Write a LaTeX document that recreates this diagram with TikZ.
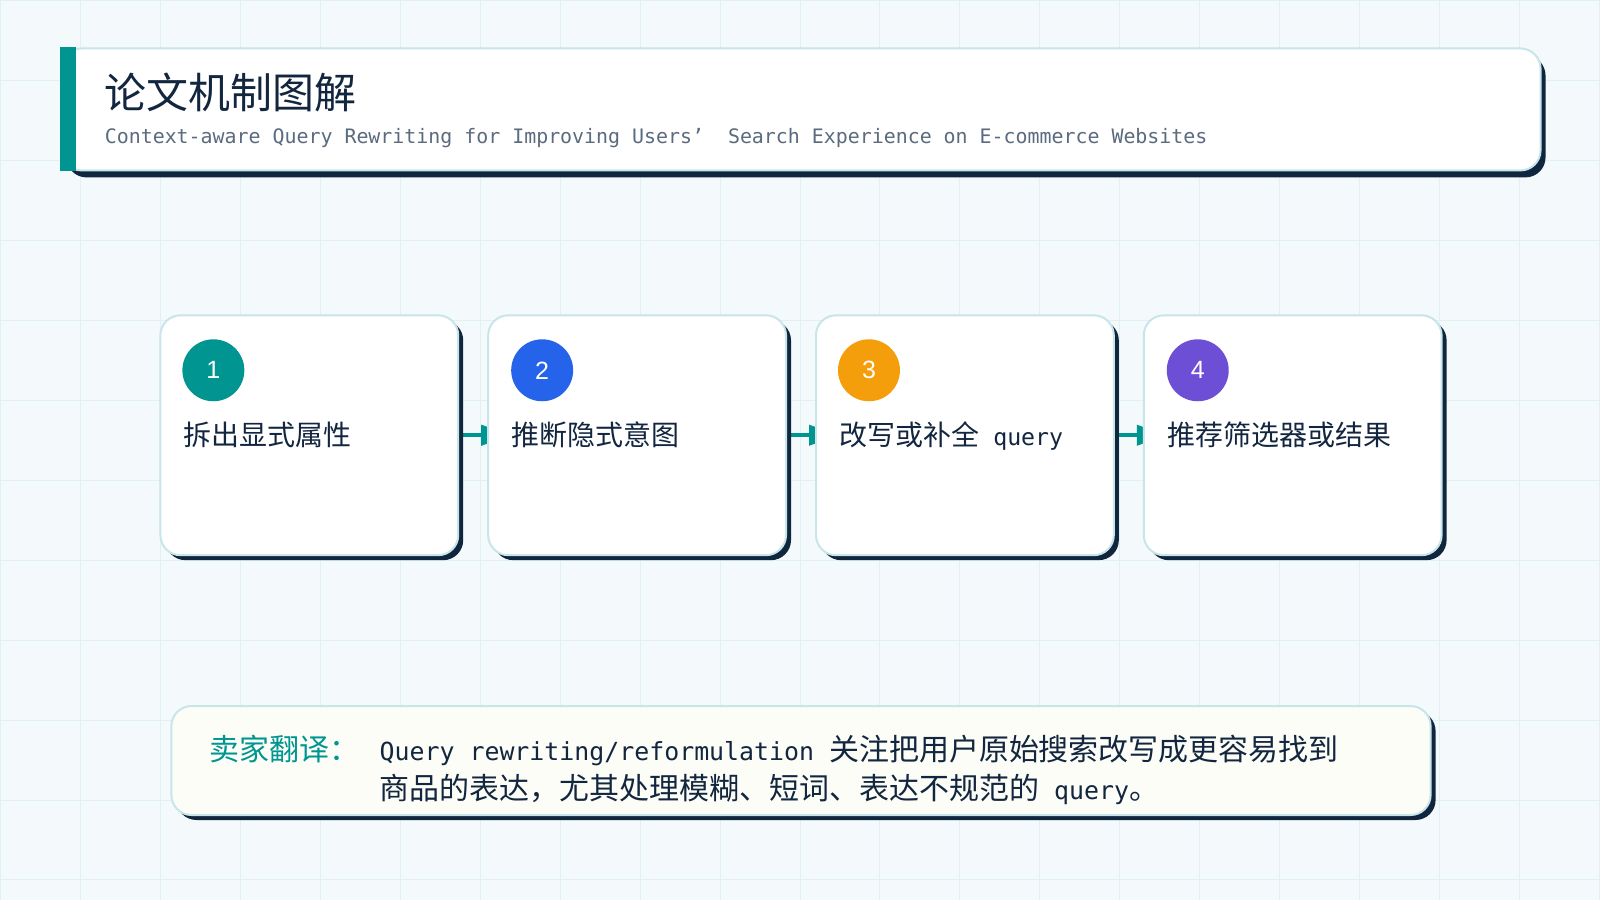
\documentclass[tikz,border=0pt]{standalone}
\usepackage{fontspec}
\setmainfont{Noto Sans CJK SC}
\newfontfamily\monof[Scale=0.83]{DejaVu Sans Mono}
\newfontfamily\numf{Liberation Sans}
\usetikzlibrary{arrows.meta,shadows}
\definecolor{bgc}{HTML}{F4F9FB}
\definecolor{gridc}{HTML}{E1F0F4}
\definecolor{ink}{HTML}{13263F}
\definecolor{subc}{HTML}{5B6B7F}
\definecolor{edgec}{HTML}{C8E5EA}
\definecolor{shadc}{HTML}{10263F}
\definecolor{tealc}{HTML}{009590}
\definecolor{bluec}{HTML}{2563EB}
\definecolor{orangec}{HTML}{F59E0B}
\definecolor{purplec}{HTML}{6D4FD5}
\definecolor{notec}{HTML}{FBFDF6}
\pgfdeclarelayer{background}
\pgfsetlayers{background,main}

\begin{document}
\begin{tikzpicture}[x=0.5pt, y=-0.5pt,
  card/.style={draw=edgec, line width=1pt, fill=white, rounded corners=10pt, inner sep=0pt,
    drop shadow={shadow xshift=2.5pt, shadow yshift=#1, fill=shadc, opacity=1}},
  card/.default=-2.5pt,
  stepcard/.style={card, minimum width=149pt, minimum height=120pt},
  badge/.style={circle, fill=#1, minimum size=31pt, inner sep=0pt, text=white,
    font=\numf\fontsize{12.5pt}{15pt}\selectfont},
  steptext/.style={anchor=base west, inner sep=0pt, text=ink,
    font=\fontsize{14pt}{17pt}\selectfont},
  link/.style={tealc, line width=2pt, -{Triangle[length=15pt,width=10pt]}, shorten >=-12pt}]

  % page and grid
  \begin{pgfonlayer}{background}
    \fill[bgc] (0,0) rectangle (1600,900);
    \draw[gridc, line width=0.5pt] (0,0) grid[step=40pt] (1600,900);
  \end{pgfonlayer}
  \useasboundingbox (0,0) rectangle (1600,900);

  % heading
  \node[card=-3.5pt, minimum width=740pt, minimum height=61pt] (head) at (801,109) {};
  \fill[tealc] (head.north west) rectangle ([xshift=8pt]head.south west);
  \node[anchor=base west, inner sep=0pt, text=ink, font=\fontsize{21pt}{25pt}\selectfont]
    (title) at (104,108) {论文机制图解};
  \node[anchor=base west, inner sep=0pt, text=subc, font=\monof\fontsize{12pt}{14pt}\selectfont]
    (sub) at (104,143) {Context-aware Query Rewriting for Improving Users’\ \ Search Experience on E-commerce Websites};

  % steps
  \node[stepcard] (s1) at (309,435) {};
  \node[badge=tealc] (n1) at (213,370) {1};
  \node[steptext] (t1) at (183,445) {拆出显式属性};

  \node[stepcard] (s2) at (637,435) {};
  \node[badge=bluec] (n2) at (542,370) {2};
  \node[steptext] (t2) at (511,445) {推断隐式意图};

  \node[stepcard] (s3) at (965,435) {};
  \node[badge=orangec] (n3) at (869,370) {3};
  \node[steptext] (t3) at (839,445) {改写或补全{\monof\space query}};

  \node[stepcard] (s4) at (1293,435) {};
  \node[badge=purplec] (n4) at (1198,370) {4};
  \node[steptext] (t4) at (1167,445) {推荐筛选器或结果};

  \begin{pgfonlayer}{background}
    \draw[link] (s1.east) -- (s2.west);
    \draw[link] (s2.east) -- (s3.west);
    \draw[link] (s3.east) -- (s4.west);
  \end{pgfonlayer}

  % note
  \node[card, fill=notec, minimum width=630pt, minimum height=54.5pt] (note) at (801,760.5) {};
  \node[anchor=base west, inner sep=0pt, text=tealc, font=\fontsize{15pt}{19.5pt}\selectfont]
    (notelab) at (209,760) {卖家翻译：};
  \node[anchor=base west, inner sep=0pt, align=left, text=ink, font=\fontsize{15pt}{19.5pt}\selectfont]
    (notetxt) at (379,799) {{\monof Query rewriting/reformulation }关注把用户原始搜索改写成更容易找到\\
    商品的表达，尤其处理模糊、短词、表达不规范的{\monof\space query}。};
\end{tikzpicture}
\end{document}
